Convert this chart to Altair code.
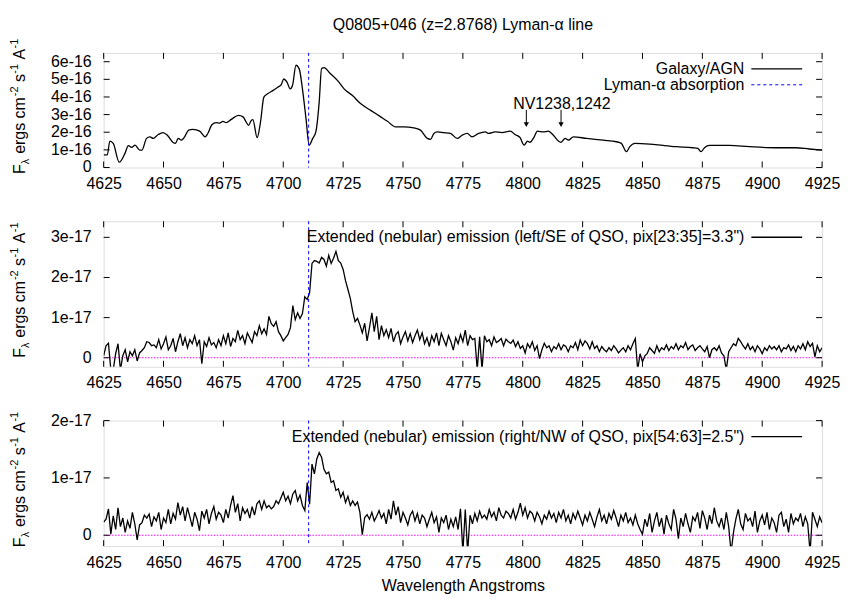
import altair as alt
import pandas as pd

FONT = "Liberation Sans"
TITLE = "Q0805+046 (z=2.8768) Lyman-α line"
XTITLE = "Wavelength Angstroms"
# y title pieces: (text, font size, advance offset, baseline shift)
YTITLE_PARTS = [("F", 16, 0.0, 0), ("λ", 11, 9.8, 4), ("ergs cm", 16, 20.2, 0),
                ("-2", 11, 78.0, -7), ("s", 16, 92.2, 0), ("-1", 11, 100.7, -7),
                ("A", 16, 114.9, 0), ("-1", 11, 126.0, -7)]

x_ticks = list(range(4625, 4926, 25))
lya_wl = 4710.6
nv_wl = [4801.5, 4816.0]
nv_label = "NV1238,1242"

# ---- panel 1: Galaxy/AGN spectrum (units of 1e-16) ----
wl1 = [4625.0, 4626.5, 4627.6, 4629.0, 4631.5, 4633.9, 4635.3, 4636.7, 4638.1, 4640.1,
       4641.0, 4642.9, 4644.3, 4645.7, 4647.8, 4649.8, 4651.6, 4654.0, 4655.0, 4656.1,
       4657.5, 4658.8, 4660.5, 4662.3, 4665.1, 4667.4, 4668.5, 4670.2, 4672.0, 4673.4,
       4674.8, 4676.2, 4678.3, 4681.3, 4683.2, 4684.5, 4685.5, 4686.6, 4687.3, 4689.1,
       4690.5, 4691.9, 4693.5, 4695.6, 4697.7, 4699.1, 4700.2, 4701.6, 4702.9, 4703.9,
       4705.3, 4706.7, 4708.1, 4709.5, 4710.8, 4712.3, 4713.6, 4715.0, 4716.0, 4717.1,
       4719.2, 4722.7, 4725.4, 4728.9, 4732.4, 4736.5, 4740.7, 4743.5, 4746.9, 4750.4,
       4754.5, 4757.3, 4760.1, 4761.5, 4762.9, 4764.3, 4767.0, 4769.8, 4772.6, 4774.7,
       4776.8, 4778.8, 4781.6, 4784.4, 4785.8, 4788.5, 4791.3, 4794.8, 4796.8, 4798.9,
       4800.6, 4802.0, 4803.0, 4804.8, 4806.1, 4808.6, 4810.7, 4812.8, 4814.9, 4815.9,
       4817.7, 4819.1, 4821.1, 4826.7, 4833.6, 4839.1, 4841.2, 4843.3, 4844.7, 4846.8,
       4853.0, 4858.6, 4864.1, 4871.0, 4873.1, 4874.5, 4875.9, 4878.0, 4886.3, 4894.6,
       4905.7, 4914.0, 4919.6, 4925.0]
fl1 = [0.71, 0.71, 1.50, 1.37, 0.30, 0.80, 1.24, 1.14, 1.27, 0.99,
       0.99, 1.65, 1.74, 1.65, 1.87, 1.98, 1.83, 1.42, 1.37, 1.65,
       1.55, 1.74, 2.12, 2.16, 2.06, 1.74, 1.93, 2.43, 2.54, 2.52,
       2.62, 2.54, 2.73, 2.96, 2.87, 2.58, 2.39, 2.66, 2.72, 1.69,
       2.58, 3.99, 4.18, 4.36, 4.55, 4.68, 5.02, 4.83, 4.46, 4.68,
       5.80, 5.58, 4.36, 2.77, 1.27, 1.65, 2.02, 3.71, 5.62, 5.67,
       5.39, 4.93, 4.46, 4.08, 3.61, 3.24, 2.87, 2.62, 2.30, 2.30,
       2.25, 2.12, 1.65, 1.60, 1.93, 2.02, 1.98, 1.93, 1.65, 1.83,
       1.93, 1.74, 1.93, 2.02, 1.93, 2.02, 1.98, 2.06, 1.87, 1.69,
       1.27, 1.50, 1.43, 1.74, 2.06, 2.02, 2.06, 1.83, 1.50, 1.43,
       1.65, 1.55, 1.74, 1.65, 1.55, 1.46, 1.37, 0.90, 1.18, 1.37,
       1.33, 1.25, 1.18, 1.12, 1.08, 0.90, 1.12, 1.25, 1.25, 1.18,
       1.12, 1.12, 1.05, 0.99]

# ---- panels 2 and 3: 1 Angstrom sampling from 4625 to 4925 (units of 1e-17) ----
wl_ext = list(range(4625, 4926))
fl2 = [0.05, 0.30, 0.36, -0.30, -0.30, 0.10, 0.35, -0.30, 0.05, 0.20,
       -0.10, 0.15, 0.05, 0.20, -0.08, 0.12, 0.18, 0.25, 0.40, 0.38,
       0.30, 0.32, 0.25, 0.45, 0.22, 0.35, 0.52, 0.20, 0.30, 0.48,
       0.15, 0.40, 0.60, 0.30, 0.50, 0.25, 0.45, 0.35, 0.55, 0.30,
       0.45, -0.15, 0.40, 0.28, 0.50, 0.32, 0.38, 0.25, 0.45, 0.30,
       0.55, 0.35, 0.62, 0.28, 0.48, 0.40, 0.68, 0.45, 0.55, 0.35,
       0.62, 0.50, 0.38, 0.65, 0.55, 0.80, 0.60, 0.72, 0.58, 1.03,
       0.85, 0.78, 0.90, 0.65, 0.55, 0.42, 0.50, 0.58, 0.75, 1.30,
       0.95, 1.12, 0.98, 1.10, 1.52, 1.45, 1.62, 2.35, 2.42, 2.40,
       2.36, 2.50, 2.45, 2.28, 2.55, 2.35, 2.48, 2.65, 2.42, 2.36,
       2.20, 1.92, 1.70, 1.48, 1.15, 0.90, 0.98, 0.82, 0.62, 0.86,
       0.42, 0.75, 1.12, 0.65, 1.03, 0.45, 0.80, 0.55, 0.70, 0.50,
       0.73, 0.40, 0.58, 0.65, 0.35, 0.52, 0.65, 0.42, 0.60, 0.38,
       0.55, 0.69, 0.45, 0.62, 0.35, 0.50, 0.28, 0.55, 0.40, 0.62,
       0.30, 0.61, 0.45, 0.30, 0.55, 0.40, 0.19, 0.50, 0.35, 0.58,
       0.40, 0.69, 0.30, 0.55, 0.45, 0.48, -0.30, 0.52, -0.30, 0.55,
       0.40, 0.45, 0.30, 0.52, 0.38, 0.42, 0.48, 0.30, 0.46, 0.40,
       0.36, 0.44, 0.28, 0.40, 0.23, 0.30, 0.12, 0.35, 0.25, 0.40,
       0.18, 0.30, -0.02, 0.20, 0.36, 0.25, 0.30, 0.15, 0.28, 0.22,
       0.35, 0.20, 0.32, 0.28, 0.15, 0.30, 0.25, 0.38, 0.20, 0.44,
       0.30, 0.42, 0.35, 0.22, 0.40, 0.23, 0.30, 0.15, 0.28, 0.20,
       0.15, 0.25, 0.18, 0.30, 0.22, 0.12, 0.19, 0.25, 0.15, 0.30,
       0.20, 0.35, 0.48, -0.30, 0.10, -0.10, 0.05, 0.11, 0.25, 0.18,
       0.11, 0.30, 0.15, 0.25, 0.20, 0.32, 0.18, 0.28, 0.22, 0.35,
       0.20, 0.30, 0.25, 0.38, 0.20, 0.28, 0.32, 0.18, 0.25, 0.30,
       0.22, 0.15, 0.28, 0.00, 0.20, 0.25, 0.18, 0.30, 0.12, 0.05,
       -0.30, 0.15, 0.25, 0.35, 0.30, 0.48, 0.40, 0.30, 0.22, 0.35,
       0.20, 0.28, 0.15, 0.30, 0.22, 0.10, 0.25, 0.18, 0.30, 0.22,
       0.28, 0.20, 0.30, 0.15, 0.25, 0.22, 0.32, 0.18, 0.28, 0.15,
       0.30, 0.22, 0.35, 0.20, 0.40, 0.28, 0.36, 0.02, 0.30, 0.15,
       0.25]
fl3 = [0.23, 0.28, 0.46, 0.02, 0.34, 0.10, 0.48, 0.15, 0.30, 0.05,
       0.25, 0.12, 0.40, 0.20, -0.08, 0.18, 0.22, 0.35, 0.30, 0.37,
       0.15, 0.32, 0.25, 0.40, 0.10, 0.30, 0.22, 0.45, 0.20, 0.38,
       0.28, 0.57, 0.35, 0.50, 0.25, 0.48, 0.32, 0.15, 0.40, 0.28,
       0.08, 0.42, 0.30, 0.45, 0.20, 0.38, 0.50, 0.28, 0.40, 0.35,
       0.22, 0.45, 0.30, 0.52, 0.69, 0.40, 0.55, 0.25, 0.48, 0.38,
       0.45, 0.30, 0.50, 0.35, 0.55, 0.60, 0.45, 0.60, 0.48, 0.52,
       0.46, 0.50, 0.60, 0.55, 0.65, 0.75, 0.60, 0.68, 0.55, 0.72,
       0.78, 0.60, 0.70, 0.52, 0.43, 0.92, 0.54, 1.24, 1.07, 1.33,
       1.44, 1.36, 1.15, 1.07, 1.10, 0.92, 0.95, 0.78, 0.81, 0.66,
       0.75, 0.57, 0.68, 0.52, 0.60, 0.52, 0.58, 0.40, 0.01, 0.31,
       0.36, 0.28, 0.40, 0.25, 0.33, 0.43, 0.30, 0.38, 0.20, 0.45,
       0.28, 0.60, 0.35, 0.50, 0.22, 0.40, 0.30, 0.18, 0.35, 0.42,
       0.25, 0.38, 0.20, 0.35, 0.30, 0.15, 0.28, 0.40, 0.22, 0.32,
       0.05, 0.30, 0.22, 0.35, 0.10, 0.28, 0.15, 0.32, 0.10, 0.46,
       -0.30, 0.45, -0.30, 0.35, 0.20, 0.38, 0.25, 0.42, 0.30, 0.35,
       0.28, 0.45, 0.32, 0.40, 0.25, 0.48, 0.35, 0.30, 0.42, 0.38,
       0.30, 0.45, 0.28, 0.40, 0.56, 0.35, 0.48, 0.30, 0.42, 0.38,
       0.25, 0.40, 0.32, 0.20, 0.35, 0.28, 0.42, 0.30, 0.38, 0.22,
       0.40, 0.30, 0.45, 0.25, 0.35, 0.20, 0.38, 0.28, 0.42, 0.30,
       0.18, 0.35, 0.25, 0.40, 0.28, 0.15, 0.32, 0.45, 0.25, 0.35,
       0.20, 0.38, 0.28, 0.43, 0.30, 0.15, 0.35, 0.25, 0.40, 0.22,
       0.30, 0.18, 0.35, 0.20, 0.10, 0.02, 0.28, 0.15, 0.38, 0.05,
       0.25, 0.40, 0.15, 0.30, 0.02, 0.35, 0.20, 0.10, 0.45, 0.28,
       -0.06, 0.30, 0.15, 0.38, 0.20, 0.05, 0.32, 0.25, 0.40, 0.12,
       0.43, 0.30, 0.10, 0.35, 0.20, 0.48, 0.25, 0.15, 0.30, 0.10,
       0.40, 0.15, -0.30, 0.05, 0.28, 0.45, 0.20, 0.10, 0.38, 0.25,
       0.30, 0.15, 0.42, 0.05, 0.25, 0.35, 0.18, 0.40, 0.10, 0.30,
       0.22, 0.05, 0.35, 0.40, 0.15, 0.28, 0.05, 0.38, 0.20, 0.30,
       0.25, 0.38, 0.15, 0.32, 0.20, -0.30, 0.40, 0.28, 0.15, 0.32,
       0.22]

legend1 = ["Galaxy/AGN", "Lyman-α absorption"]
legend2 = ['Extended (nebular) emission (left/SE of QSO, pix[23:35]=3.3")']
legend3 = ['Extended (nebular) emission (right/NW of QSO, pix[54:63]=2.5")']

W = 721
XDOM = [4625, 4925]
TICK = 6
LEG_TEXT_X = 643
LEG_LINE_X = (650, 701)
YTITLE_X = -79


def txt(s, **kw):
    return alt.Chart(pd.DataFrame({"t": [s]})).mark_text(font=FONT, color="black", **kw)


def panel(wl, fl, ydom, yticks, expo, height, legend, interp, xtitle=None,
          title=None, nv=False):
    xs = alt.Scale(domain=XDOM, nice=False, zero=False)
    ys = alt.Scale(domain=ydom, nice=False, zero=False)
    xaxis_kw = dict(values=x_ticks, ticks=False, tickSize=0, domain=False, grid=False,
                    labelFont=FONT, labelFontSize=16, labelColor="black",
                    labelPadding=8, labelFlush=False, labelOverlap=False, format="d")
    if xtitle:
        xaxis_kw.update(title=xtitle, titleFont=FONT, titleFontSize=16,
                        titleFontWeight="normal", titleColor="black", titlePadding=8)
    else:
        xaxis_kw.update(title=None)
    df = pd.DataFrame({"wl": wl, "flux": fl})
    X = alt.X("wl:Q", scale=xs, axis=alt.Axis(**xaxis_kw))
    Xn = alt.X("wl:Q", scale=xs)
    Yn = alt.Y("flux:Q", scale=ys, axis=None)

    layers = []
    if expo != 16:
        layers.append(alt.Chart(pd.DataFrame({"flux": [0.0]})).mark_rule(
            color="#ff00ff", strokeDash=[1.5, 1.5], strokeWidth=1).encode(y=Yn))
    layers.append(alt.Chart(df).mark_line(color="black", strokeWidth=1.3, clip=True,
                                          interpolate=interp).encode(x=X, y=Yn))
    layers.append(alt.Chart(pd.DataFrame({"wl": [lya_wl]})).mark_rule(
        color="#0000ff", strokeDash=[3, 3], strokeWidth=1).encode(x=Xn))

    # inward ticks on all four sides
    xt = pd.DataFrame({"wl": x_ticks})
    yt = pd.DataFrame({"flux": yticks,
                       "lab": ["0" if v == 0 else f"{v}e-{expo}" for v in yticks]})
    layers.append(alt.Chart(xt).mark_rule(color="black").encode(
        x=Xn, y=alt.value(height), y2=alt.value(height - TICK)))
    layers.append(alt.Chart(xt).mark_rule(color="black").encode(
        x=Xn, y=alt.value(0), y2=alt.value(TICK)))
    layers.append(alt.Chart(yt).mark_rule(color="black").encode(
        y=Yn, x=alt.value(0), x2=alt.value(TICK)))
    layers.append(alt.Chart(yt).mark_rule(color="black").encode(
        y=Yn, x=alt.value(W - TICK), x2=alt.value(W)))
    # y tick labels
    layers.append(alt.Chart(yt).mark_text(font=FONT, fontSize=16, color="black",
                                          align="right", baseline="middle").encode(
        y=Yn, x=alt.value(-12), text="lab:N"))
    # y title with subscript / superscripts
    start = height / 2 + 64
    for s, fs, dx, dy in YTITLE_PARTS:
        layers.append(txt(s, fontSize=fs, angle=270, align="left", baseline="alphabetic",
                          dx=dx, dy=dy).encode(
            text="t:N", x=alt.value(YTITLE_X), y=alt.value(start)))

    # key
    for i, lab in enumerate(legend):
        ypos = 16 + 16 * i
        layers.append(txt(lab, align="right", baseline="middle", fontSize=16).encode(
            text="t:N", x=alt.value(LEG_TEXT_X), y=alt.value(ypos)))
        if i == 0:
            layers.append(alt.Chart(pd.DataFrame({"t": [lab]})).mark_rule(
                color="black", strokeWidth=1.3).encode(
                x=alt.value(LEG_LINE_X[0]), x2=alt.value(LEG_LINE_X[1]), y=alt.value(ypos)))
        else:
            layers.append(alt.Chart(pd.DataFrame({"t": [lab]})).mark_rule(
                color="#0000ff", strokeDash=[3, 3], strokeWidth=1).encode(
                x=alt.value(LEG_LINE_X[0]), x2=alt.value(LEG_LINE_X[1]), y=alt.value(ypos)))

    if nv:
        ar = pd.DataFrame({"wl": nv_wl, "flux": [3.27] * 2, "tip": [2.42] * 2})
        layers.append(alt.Chart(ar).mark_rule(color="black", strokeWidth=1).encode(
            x=Xn, y=Yn, y2="tip:Q"))
        hd = pd.DataFrame({"wl": nv_wl, "flux": [2.43] * 2})
        layers.append(alt.Chart(hd).mark_point(shape="triangle-down", filled=True,
                                               size=28, color="black", opacity=1).encode(
            x=Xn, y=Yn))
        lb = pd.DataFrame({"wl": [4796.0], "flux": [3.31], "t": [nv_label]})
        layers.append(alt.Chart(lb).mark_text(align="left", baseline="alphabetic",
                                              font=FONT, fontSize=16, color="black").encode(
            x=Xn, y=Yn, text="t:N"))

    if title:
        layers.append(txt(title, align="center", baseline="alphabetic", fontSize=16).encode(
            text="t:N", x=alt.value(W / 2), y=alt.value(-23)))

    return alt.layer(*layers).properties(width=W, height=height)


p1 = panel(wl1, fl1, [0, 6.5], [0, 1, 2, 3, 4, 5, 6], 16, 115, legend1, "monotone",
           title=TITLE, nv=True)
p2 = panel(wl_ext, fl2, [-0.225, 3.4], [0, 1, 2, 3], 17, 146, legend2, "linear")
p3 = panel(wl_ext, fl3, [-0.19, 2.0], [0, 1, 2], 17, 126, legend3, "linear",
           xtitle=XTITLE)

chart = alt.vconcat(p1, p2, p3, spacing=54, bounds="flush").properties(
    padding={"left": 0, "top": 7, "right": 5, "bottom": 5}
).configure_view(stroke="black", strokeWidth=1).configure(background="white")

chart.save("out.html", embed_options={"renderer": "svg", "actions": False})
